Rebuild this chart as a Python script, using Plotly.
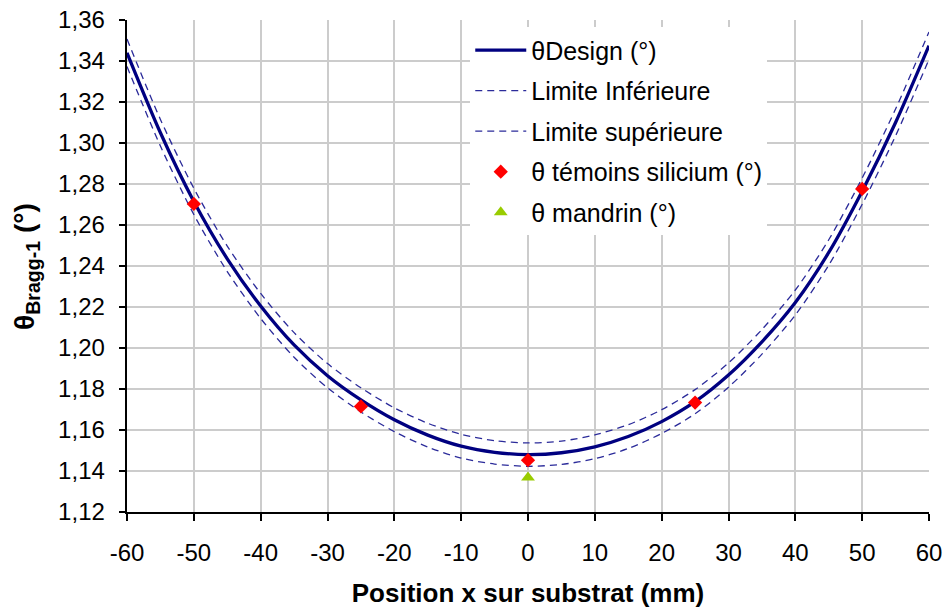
import plotly.graph_objects as go

# Position on substrate (mm)
x_pos = [-60, -55, -50, -45, -40, -35, -30, -25, -20, -15, -10, -5, 0,
         5, 10, 15, 20, 25, 30, 35, 40, 45, 50, 55, 60]
# Design Bragg angle (deg)
theta_design = [1.3440, 1.3050, 1.2715, 1.2435, 1.2205, 1.2015, 1.1865, 1.1747, 1.1650, 1.1575, 1.1521, 1.1491, 1.1480,
                1.1489, 1.1518, 1.1568, 1.1641, 1.1738, 1.1868, 1.2030, 1.2222, 1.2466, 1.2765, 1.3100, 1.3475]
# Lower limit (deg)
theta_low = [1.3373, 1.2985, 1.2651, 1.2373, 1.2144, 1.1955, 1.1806, 1.1688, 1.1592, 1.1517, 1.1463, 1.1434, 1.1423,
             1.1432, 1.1460, 1.1510, 1.1583, 1.1679, 1.1809, 1.1970, 1.2161, 1.2404, 1.2701, 1.3035, 1.3408]
# Upper limit (deg)
theta_high = [1.3507, 1.3115, 1.2779, 1.2497, 1.2266, 1.2075, 1.1924, 1.1806, 1.1708, 1.1633, 1.1579, 1.1548, 1.1537,
              1.1546, 1.1576, 1.1626, 1.1699, 1.1797, 1.1927, 1.2090, 1.2283, 1.2528, 1.2829, 1.3166, 1.3542]

# Silicon witnesses
x_temoins = [-50, -25, 0, 25, 50]
theta_temoins = [1.2703, 1.1715, 1.1453, 1.1734, 1.2776]

# Mandrel
x_mandrin = [0]
theta_mandrin = [1.1368]

# Axis ticks
x_ticks = [-60, -50, -40, -30, -20, -10, 0, 10, 20, 30, 40, 50, 60]
x_ticktext = ["-60", "-50", "-40", "-30", "-20", "-10", "0", "10", "20", "30", "40", "50", "60"]

navy = "#000080"
dash_col = "#2B2B9A"

fig = go.Figure()
fig.add_trace(go.Scatter(x=x_pos, y=theta_design, mode="lines", name="θDesign (°)",
                         line=dict(color=navy, width=3.3, shape="spline", smoothing=0.8),
                         legendgroup="a"))
fig.add_trace(go.Scatter(x=x_pos, y=theta_low, mode="lines", name="Limite Inférieure",
                         line=dict(color=dash_col, width=1.3, dash="7px,5px", shape="spline", smoothing=0.8),
                         legendgroup="b"))
fig.add_trace(go.Scatter(x=x_pos, y=theta_high, mode="lines", name="Limite supérieure",
                         line=dict(color=dash_col, width=1.3, dash="7px,5px", shape="spline", smoothing=0.8),
                         legendgroup="c"))
fig.add_trace(go.Scatter(x=x_temoins, y=theta_temoins, mode="markers", name="θ témoins silicium (°)",
                         marker=dict(symbol="diamond", color="#FF0000", size=11),
                         legendgroup="d"))
fig.add_trace(go.Scatter(x=x_mandrin, y=theta_mandrin, mode="markers", name="θ mandrin (°)",
                         marker=dict(symbol="triangle-up", color="#99CC00", size=12),
                         legendgroup="e"))

font_family = "Liberation Sans, Arial, sans-serif"

fig.update_layout(
    width=946, height=608,
    margin=dict(l=127, r=17, t=20, b=96),
    paper_bgcolor="white", plot_bgcolor="white",
    separators=", ",
    font=dict(family=font_family, size=24, color="black"),
    showlegend=True,
    legend=dict(x=0.428, y=0.985, xanchor="left", yanchor="top",
                bgcolor="white", borderwidth=0,
                font=dict(family=font_family, size=25, color="black"),
                tracegroupgap=5, itemwidth=51),
    xaxis=dict(range=[-60, 60], tickvals=x_ticks, ticktext=x_ticktext,
               automargin=False, ticklabeloverflow="allow",
               showgrid=True, gridcolor="#CCCCCC", gridwidth=1.5,
               showline=True, linecolor="black", linewidth=1.5,
               ticks="outside", ticklen=7, tickcolor="black", tickwidth=1.5,
               ticklabelstandoff=11, zeroline=False,
               tickfont=dict(size=24),
               title=dict(text="<b>Position x sur substrat (mm)</b>", font=dict(size=26), standoff=20)),
    yaxis=dict(range=[1.12, 1.36], dtick=0.02, tick0=1.12, tickformat=".2f",
               ticksuffix="\u2009\u2009",
               automargin=False, ticklabeloverflow="allow",
               showgrid=True, gridcolor="#CCCCCC", gridwidth=1.5,
               showline=True, linecolor="black", linewidth=1.5,
               ticks="outside", ticklen=6, tickcolor="black", tickwidth=1.5,
               zeroline=False,
               tickfont=dict(size=24)),
    annotations=[dict(text="<b>θ<sub>Bragg-1</sub> (°)</b>", textangle=-90,
                      xref="paper", yref="paper", x=-0.126, y=0.5,
                      xanchor="center", yanchor="middle", showarrow=False,
                      font=dict(family=font_family, size=28, color="black"))],
)

fig.write_html(
    "out.html",
    config={"displayModeBar": False},
    post_script="document.body.style.margin='0';document.body.style.overflow='hidden';",
)
